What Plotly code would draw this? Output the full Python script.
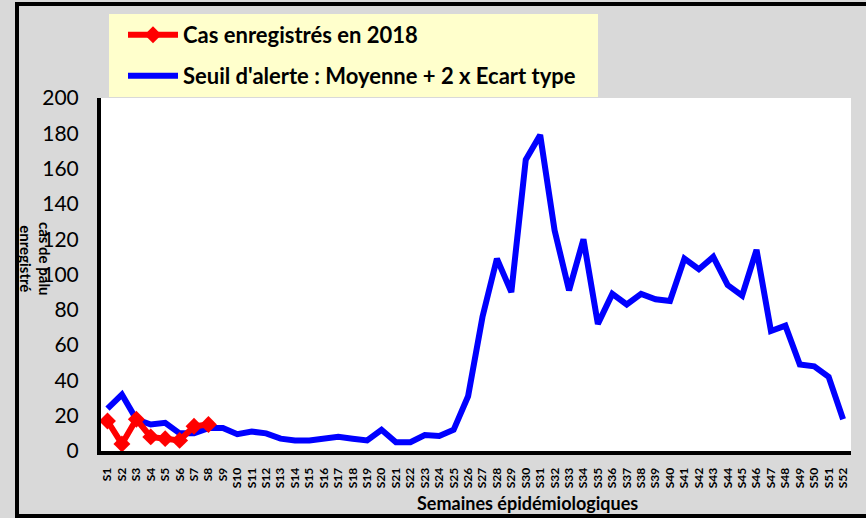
import plotly.graph_objects as go

weeks = ["S1", "S2", "S3", "S4", "S5", "S6", "S7", "S8", "S9", "S10",
         "S11", "S12", "S13", "S14", "S15", "S16", "S17", "S18", "S19", "S20",
         "S21", "S22", "S23", "S24", "S25", "S26", "S27", "S28", "S29", "S30",
         "S31", "S32", "S33", "S34", "S35", "S36", "S37", "S38", "S39", "S40",
         "S41", "S42", "S43", "S44", "S45", "S46", "S47", "S48", "S49", "S50",
         "S51", "S52"]

cas_2018 = [17, 4, 18, 8, 7, 6, 14, 15]

seuil = [24, 32, 18, 15, 16, 10, 10, 13, 13, 9.5,
         11, 10, 7, 6, 6, 7, 8, 7, 6, 12,
         5, 5, 9, 8.5, 12, 31, 76, 109, 90, 165,
         179, 125, 91, 120, 72, 89, 83, 89, 86, 85,
         109, 103, 110, 94, 88, 114, 68, 71, 49, 48,
         42, 18]

y_ticks = [0, 20, 40, 60, 80, 100, 120, 140, 160, 180, 200]

name_cas = "Cas enregistrés en 2018"
name_seuil = "Seuil d'alerte : Moyenne + 2 x Ecart type"
x_title = "Semaines épidémiologiques"
y_title = "cas de palu<br>enregistré"

# ---- layout geometry (pixels) ----
W, H = 866, 518
L, R, T, B = 101, 851, 98, 451
FONT = "Lato"


def px(x):
    return (x - L) / (R - L)


def py(y):
    return (B - y) / (B - T)


fig = go.Figure()

fig.add_trace(go.Scatter(
    x=weeks, y=seuil, name=name_seuil, mode="lines",
    line=dict(color="#0000ff", width=6),
    legend="legend2", showlegend=True,
))
fig.add_trace(go.Scatter(
    x=weeks[:len(cas_2018)], y=cas_2018, name=name_cas, mode="lines+markers",
    line=dict(color="#ff0000", width=6),
    marker=dict(symbol="diamond", size=13, color="#ff0000"),
    legend="legend", showlegend=True,
))

shapes = [
    # legend background
    dict(type="rect", xref="paper", yref="paper",
         x0=px(109), x1=px(598), y0=py(97), y1=py(14),
         fillcolor="#ffffcc", line=dict(width=0), layer="below"),
    # outer frame
    dict(type="rect", xref="paper", yref="paper",
         x0=px(17), x1=px(880), y0=py(516), y1=py(4),
         line=dict(color="black", width=4), fillcolor="rgba(0,0,0,0)"),
]

annotations = [
    dict(text=x_title, xref="paper", yref="paper", x=px(527), y=py(503),
         showarrow=False, xanchor="center", yanchor="middle",
         font=dict(family=FONT, size=18, color="black", weight="bold")),
    dict(text=y_title, xref="paper", yref="paper", x=px(35), y=py(259),
         showarrow=False, xanchor="center", yanchor="middle", textangle=90,
         font=dict(family=FONT, size=15, color="black", weight="bold")),
]

fig.update_layout(
    width=W, height=H,
    margin=dict(l=L, r=W - R, t=T, b=H - B, pad=0),
    paper_bgcolor="#d9d9d9",
    plot_bgcolor="white",
    font=dict(family=FONT, color="black"),
    showlegend=True,
    shapes=shapes,
    annotations=annotations,
    legend=dict(x=px(123), y=py(35), xanchor="left", yanchor="middle",
                bgcolor="rgba(0,0,0,0)", itemwidth=50, traceorder="normal",
                font=dict(family=FONT, size=22, color="black", weight="bold")),
    legend2=dict(x=px(123), y=py(76), xanchor="left", yanchor="middle",
                 bgcolor="rgba(0,0,0,0)", itemwidth=50,
                 font=dict(family=FONT, size=22, color="black", weight="bold")),
    xaxis=dict(
        type="category", range=[-0.45, 51.55],
        tickvals=weeks, ticktext=weeks, tickangle=-90,
        tickfont=dict(family=FONT, size=12, color="black", weight="bold"),
        showgrid=False, zeroline=False,
        showline=True, linecolor="black", linewidth=4,
        ticks="", ticklabelstandoff=8,
    ),
    yaxis=dict(
        range=[0, 200], tickvals=y_ticks,
        tickfont=dict(family=FONT, size=21, color="black"),
        showgrid=False, zeroline=False,
        showline=True, linecolor="black", linewidth=4,
        ticks="", ticklabelstandoff=14,
    ),
)

fig.write_html("out.html", config={"displayModeBar": False},
               post_script="document.body.style.margin='0px';")
